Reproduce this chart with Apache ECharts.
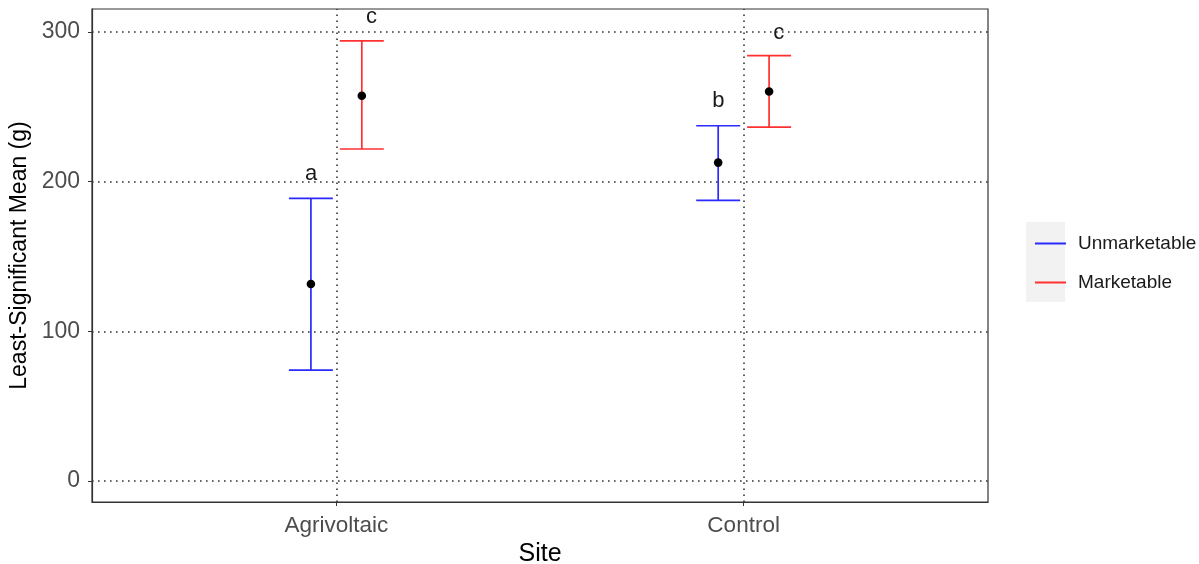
<!DOCTYPE html>
<html>
<head>
<meta charset="utf-8">
<script src="https://cdn.jsdelivr.net/npm/echarts@6/dist/echarts.min.js"></script>
<style>
html,body{margin:0;padding:0;background:#fff;}
#chart{width:1199px;height:564px;}
</style>
</head>
<body>
<div id="chart"></div>
<script>
// ---- data ----
const sites = ['Agrivoltaic', 'Control'];
const groups = ['Unmarketable', 'Marketable'];
const unmMean = [131.6, 212.7];
const unmLow = [74.1, 187.5];
const unmHigh = [188.8, 237.3];
const mktMean = [257.4, 260.2];
const mktLow = [221.8, 236.4];
const mktHigh = [294.0, 284.1];
const unmLetters = ['a', 'b'];
const unmLetterY = [205, 254];
const mktLetters = ['c', 'c'];
const mktLetterY = [310, 299];
const yTicks = [0, 100, 200, 300];

// ---- styling constants ----
const FONT = 'Liberation Sans, Arial, sans-serif';
const BLUE = '#2a2aff';
const RED = '#ff3030';
const DODGE = 0.0625;
const CAP_HALF = 0.054;
const siteIdx = sites.map((s, i) => i + 1);

function errSeries(name, color, means, lows, highs, dodge, withGrid) {
  const s = {
    name: name,
    type: 'custom',
    z: 10,
    itemStyle: { color: color },
    encode: { x: 0, y: [1, 2, 3] },
    data: siteIdx.map((x, i) => [x, lows[i], highs[i], means[i]]),
    renderItem: function (params, api) {
      const x = api.value(0) + dodge;
      const lo = api.coord([x, api.value(1)]);
      const hi = api.coord([x, api.value(2)]);
      const mn = api.coord([x, api.value(3)]);
      const half = api.size([CAP_HALF, 0])[0];
      const ls = { stroke: color, lineWidth: 1.7 };
      return {
        type: 'group',
        children: [
          { type: 'line', shape: { x1: lo[0], y1: lo[1], x2: hi[0], y2: hi[1] }, style: ls },
          { type: 'line', shape: { x1: hi[0] - half, y1: hi[1], x2: hi[0] + half, y2: hi[1] }, style: ls },
          { type: 'line', shape: { x1: lo[0] - half, y1: lo[1], x2: lo[0] + half, y2: lo[1] }, style: ls },
          { type: 'circle', shape: { cx: mn[0], cy: mn[1], r: 4.3 }, style: { fill: '#000' } }
        ]
      };
    }
  };
  if (withGrid) {
    s.markLine = {
      silent: true,
      symbol: 'none',
      z: 1,
      label: { show: false },
      lineStyle: { color: '#333', width: 1.6, type: [1.6, 4.4] },
      data: yTicks.map(v => ({ yAxis: v })).concat(siteIdx.map(v => ({ xAxis: v })))
    };
  }
  return s;
}

function letterSeries(letters, ys, dx) {
  return {
    type: 'custom',
    z: 11,
    silent: true,
    encode: { x: 0, y: 1 },
    data: siteIdx.map((x, i) => [x, ys[i], letters[i]]),
    renderItem: function (params, api) {
      const p = api.coord([api.value(0) + dx, api.value(1)]);
      return {
        type: 'text',
        x: p[0], y: p[1],
        style: {
          text: letters[params.dataIndex],
          fill: '#1a1a1a',
          font: '22px ' + FONT,
          align: 'center',
          verticalAlign: 'middle'
        }
      };
    }
  };
}

const chart = echarts.init(document.getElementById('chart'), null, { renderer: 'canvas' });
chart.setOption({
  animation: false,
  backgroundColor: '#fff',
  textStyle: { fontFamily: FONT },
  grid: {
    left: 92, right: 211, top: 9, bottom: 62,
    containLabel: false,
    outerBoundsMode: 'none',
    show: true, borderColor: '#333', borderWidth: 1.2, backgroundColor: '#fff'
  },
  xAxis: {
    type: 'value',
    min: 0.4, max: 2.6,
    name: 'Site',
    nameLocation: 'middle',
    nameGap: 38,
    nameTextStyle: { color: '#000', fontSize: 25, fontFamily: FONT },
    axisLine: { show: true, onZero: false, lineStyle: { color: '#333', width: 1.2 } },
    axisTick: { show: true, customValues: siteIdx, length: 4, lineStyle: { color: '#333' } },
    axisLabel: {
      customValues: siteIdx,
      formatter: v => sites[Math.round(v) - 1],
      color: '#4d4d4d', fontSize: 22.5, fontFamily: FONT, margin: 12
    },
    splitLine: { show: false }
  },
  yAxis: {
    type: 'value',
    min: -14, max: 315.3,
    name: 'Least-Significant Mean (g)',
    nameLocation: 'middle',
    nameGap: 58,
    nameTextStyle: { color: '#000', fontSize: 23, fontFamily: FONT },
    axisLine: { show: true, lineStyle: { color: '#333', width: 1.2 } },
    axisTick: { show: true, customValues: yTicks, length: 4, lineStyle: { color: '#333' } },
    axisLabel: {
      customValues: yTicks,
      color: '#4d4d4d', fontSize: 23, fontFamily: FONT, margin: 12
    },
    splitLine: { show: false }
  },
  legend: {
    data: groups,
    orient: 'vertical',
    left: 1030, top: 229,
    itemWidth: 31, itemHeight: 20, itemGap: 20,
    icon: 'path://M0,0L31,0L31,2L0,2Z',
    textStyle: { color: '#1a1a1a', fontSize: 19, fontFamily: FONT, padding: [0, 0, 0, 7] },
    selectedMode: false
  },
  graphic: [
    { type: 'rect', left: 1026, top: 222, z: -1, shape: { width: 39, height: 80 }, style: { fill: '#f2f2f2' } }
  ],
  series: [
    errSeries(groups[0], BLUE, unmMean, unmLow, unmHigh, -DODGE, true),
    errSeries(groups[1], RED, mktMean, mktLow, mktHigh, DODGE, false),
    letterSeries(unmLetters, unmLetterY, -0.062),
    letterSeries(mktLetters, mktLetterY, 0.086)
  ]
});
</script>
</body>
</html>
